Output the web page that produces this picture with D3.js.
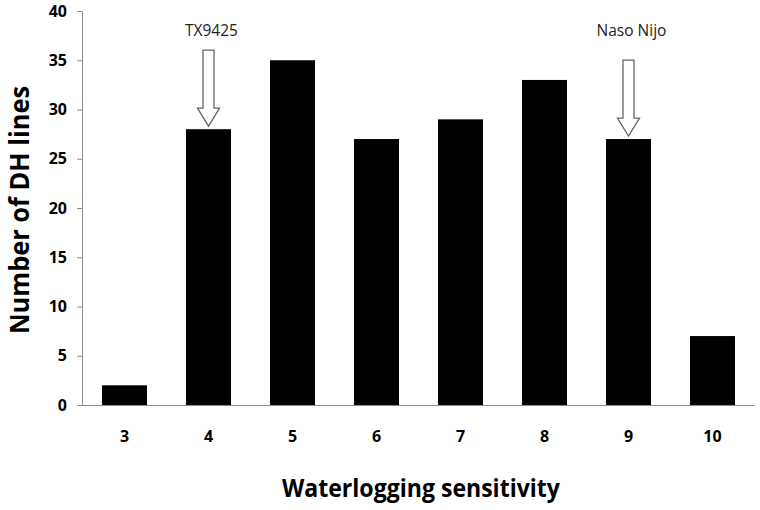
<!DOCTYPE html>
<html>
<head>
<meta charset="utf-8">
<script src="https://cdn.jsdelivr.net/npm/d3@7"></script>
<style>
  body { margin: 0; background: #fff; }
  svg { display: block; }
  .tick text { font-family: "Open Sans", sans-serif; font-weight: bold; }
</style>
</head>
<body>
<div id="chart"></div>
<script>
// waterlogging sensitivity score vs count of DH lines
var categories = ["3", "4", "5", "6", "7", "8", "9", "10"];
var counts = [2, 28, 35, 27, 29, 33, 27, 7];
var yTicks = [0, 5, 10, 15, 20, 25, 30, 35, 40];
var noteCats = ["4", "9"];
var noteLabels = ["TX9425", "Naso Nijo"];

var width = 760, height = 510;
var margin = { top: 11, right: 5, bottom: 105, left: 82 };

var svg = d3.select("#chart").append("svg")
  .attr("width", width)
  .attr("height", height);

var x = d3.scaleBand()
  .domain(categories)
  .range([margin.left, width - margin.right])
  .paddingInner(0.464)
  .paddingOuter(0.238);

var y = d3.scaleLinear()
  .domain([0, 40])
  .range([height - margin.bottom, margin.top]);

// bars
svg.selectAll("rect.bar")
  .data(counts)
  .enter().append("rect")
  .attr("class", "bar")
  .attr("x", function (d, i) { return x(categories[i]); })
  .attr("y", function (d) { return y(d); })
  .attr("width", x.bandwidth())
  .attr("height", function (d) { return y(0) - y(d); })
  .style("fill", "#000");

// y axis
var yAxis = svg.append("g")
  .attr("transform", "translate(" + margin.left + ",0)")
  .call(d3.axisLeft(y).tickValues(yTicks).tickSize(5).tickPadding(10));
yAxis.selectAll("path, line").style("stroke", "#8c8c8c");
yAxis.selectAll("text").style("font-size", "16px").style("fill", "#000");

// x axis
var xAxis = svg.append("g")
  .attr("transform", "translate(0," + y(0) + ")")
  .call(d3.axisBottom(x).tickSize(0).tickPadding(26));
xAxis.select("path").style("stroke", "#8c8c8c").attr("d", "M" + margin.left + ",0.5H" + (width - margin.right));
xAxis.selectAll("text").style("font-size", "16px").style("fill", "#000");

// axis titles
svg.append("text")
  .attr("transform", "translate(29,210) rotate(-90)")
  .attr("text-anchor", "middle")
  .attr("textLength", 248)
  .attr("lengthAdjust", "spacingAndGlyphs")
  .style("font-family", "'Open Sans', sans-serif")
  .style("font-weight", "bold")
  .style("font-size", "26px")
  .text("Number of DH lines");

svg.append("text")
  .attr("x", 421)
  .attr("y", 497)
  .attr("text-anchor", "middle")
  .attr("textLength", 278)
  .attr("lengthAdjust", "spacingAndGlyphs")
  .style("font-family", "'Open Sans', sans-serif")
  .style("font-weight", "bold")
  .style("font-size", "25px")
  .text("Waterlogging sensitivity");

// arrows pointing at the parent lines
noteCats.forEach(function (c, i) {
  var v = counts[categories.indexOf(c)];
  var cx = x(c) + x.bandwidth() / 2;
  var tip = y(v) - 3;
  var top = tip - 76;
  var headY = tip - 18;
  var sw = 5.5, hw = 11;
  var pts = [
    [cx - sw, top], [cx + sw, top], [cx + sw, headY], [cx + hw, headY],
    [cx, tip], [cx - hw, headY], [cx - sw, headY]
  ];
  svg.append("path")
    .attr("d", d3.line()(pts) + "Z")
    .style("fill", "#fff")
    .style("stroke", "#666")
    .style("stroke-width", 1.3);

  svg.append("text")
    .attr("x", cx + 3)
    .attr("y", 36)
    .attr("text-anchor", "middle")
    .style("font-family", "'Open Sans', sans-serif")
    .style("font-size", "15.5px")
    .style("fill", "#222")
    .text(noteLabels[i]);
});
</script>
</body>
</html>
